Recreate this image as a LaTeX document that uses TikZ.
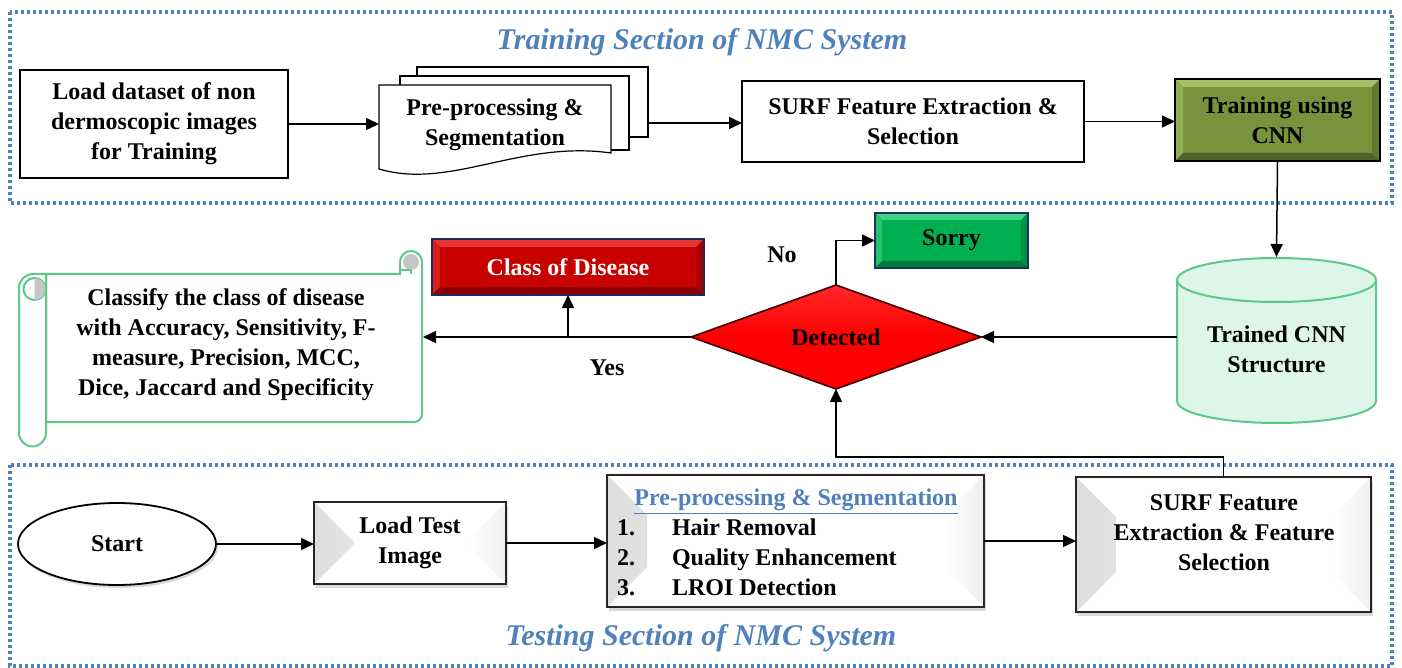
\documentclass[tikz,border=0pt]{standalone}
\usepackage{fontspec}
\setmainfont{Liberation Serif}
\usetikzlibrary{arrows.meta,shapes.geometric,shadows}
\definecolor{secblue}{HTML}{4F81BD}
\definecolor{olivef}{HTML}{77933C}
\definecolor{olivel}{HTML}{A5C167}
\definecolor{olived}{HTML}{4F6228}
\definecolor{redf}{HTML}{C80000}
\definecolor{redl}{HTML}{E53535}
\definecolor{redd}{HTML}{8A0000}
\definecolor{navyb}{HTML}{1F2A5C}
\definecolor{greenf}{HTML}{00B050}
\definecolor{greenl}{HTML}{45D088}
\definecolor{greend}{HTML}{007A3A}
\definecolor{tealb}{HTML}{17365D}
\definecolor{mint}{HTML}{5CC88A}
\definecolor{mintf}{HTML}{DDF6E9}
\begin{document}
\begin{tikzpicture}[x=0.5pt,y=-0.5pt,
  every node/.style={inner sep=0pt, outer sep=0pt},
  txt/.style={font=\fontsize{12}{15}\selectfont\bfseries, align=center},
  plainbox/.style={draw=black, line width=0.8pt, fill=white},
  conn/.style={line width=0.75pt, -{Triangle[length=6.5pt,width=6pt]}},
  link/.style={line width=0.75pt},
  secframe/.style={draw=secblue, line width=1.6pt, dash pattern=on 1.5pt off 1.5pt},
  sectitle/.style={text=secblue, font=\fontsize{15}{18}\selectfont\bfseries\itshape},
  docsheet/.style={draw=black, line width=0.6pt, fill=white},
  bevel/.style n args={4}{fill=#1, path picture={
    \fill[#2] (path picture bounding box.north west) -- (path picture bounding box.north east)
      -- ([xshift=-#4,yshift=-#4]path picture bounding box.north east)
      -- ([xshift=#4,yshift=-#4]path picture bounding box.north west) -- cycle;
    \fill[#2!55!#1] (path picture bounding box.north west)
      -- ([xshift=#4,yshift=-#4]path picture bounding box.north west)
      -- ([xshift=#4,yshift=#4]path picture bounding box.south west)
      -- (path picture bounding box.south west) -- cycle;
    \fill[#3] (path picture bounding box.south west)
      -- ([xshift=#4,yshift=#4]path picture bounding box.south west)
      -- ([xshift=-#4,yshift=#4]path picture bounding box.south east)
      -- (path picture bounding box.south east) -- cycle;
    \fill[#3!55!#1] (path picture bounding box.south east)
      -- ([xshift=-#4,yshift=#4]path picture bounding box.south east)
      -- ([xshift=-#4,yshift=-#4]path picture bounding box.north east)
      -- (path picture bounding box.north east) -- cycle;
  }},
  softbevel/.style={fill=white, draw=black!85, line width=0.9pt,
    drop shadow={shadow xshift=1pt, shadow yshift=-2pt, opacity=0.3},
    path picture={
    \shade[left color=black!13, right color=white] (path picture bounding box.north west)
      -- ([xshift=20pt,yshift=-20pt]path picture bounding box.north west)
      -- ([xshift=20pt,yshift=20pt]path picture bounding box.south west)
      -- (path picture bounding box.south west) -- cycle;
    \shade[left color=white, right color=black!6] (path picture bounding box.north east)
      -- ([xshift=-20pt,yshift=-20pt]path picture bounding box.north east)
      -- ([xshift=-20pt,yshift=20pt]path picture bounding box.south east)
      -- (path picture bounding box.south east) -- cycle;
  }}]
\useasboundingbox (0,0) rectangle (1402,668);

% section frames and titles
\draw[secframe] (10,12) rectangle (1392,203);
\draw[secframe] (10,465) rectangle (1392,666);
\node[sectitle] (trtitle) at (702,42) {Training Section of NMC System};
\node[sectitle] (tstitle) at (701,638) {Testing Section of NMC System};

% ---------------- training row ----------------
\node[plainbox, txt, minimum width=134pt, minimum height=54pt] (load) at (154,124)
  {Load dataset of non\\dermoscopic images\\for Training};

% stacked document sheets
\draw[docsheet] (417,67) rectangle (648,137);
\draw[docsheet] (400,76) rectangle (629,150);
\draw[docsheet] (379,85) -- (611,85) -- (611,153)
  .. controls (520,140) and (450,190) .. (379,169) -- cycle;
\node[txt, minimum width=116pt] (pre) at (495,125) {Pre-processing \&\\Segmentation};
\coordinate (stackR) at (648,123);

\node[plainbox, txt, minimum width=171pt, minimum height=40.5pt] (surf1) at (913,121.5)
  {SURF Feature Extraction \&\\Selection};
\node[draw=black, line width=1.2pt, bevel={olivef}{olivel}{olived}{4pt}, txt,
  minimum width=102.5pt, minimum height=41pt] (train) at (1277.5,120) {Training using\\CNN};

% ---------------- middle: decision ----------------
% trained model store (cylinder)
\path[draw=mint, fill=mintf, line width=1pt] (1177,280) -- (1177,401)
  arc[start angle=180, end angle=360, x radius=49.75pt, y radius=11pt] -- (1376,280)
  arc[start angle=0, end angle=180, x radius=49.75pt, y radius=11pt] -- cycle;
\draw[mint, line width=1pt] (1177,280)
  arc[start angle=180, end angle=360, x radius=49.75pt, y radius=11pt];
\node[txt, minimum width=99.5pt] (cyl) at (1276.5,349) {Trained CNN\\Structure};
\coordinate (cyltop) at (1276.5,257);

\node[diamond, aspect=2.8, draw=black!75!red, line width=0.8pt,
  top color=red!85!white, bottom color=red, middle color=red,
  minimum width=145pt, minimum height=52pt, txt] (det) at (836,337) {Detected};

\node[draw=tealb, line width=1pt, bevel={greenf}{greenl}{greend}{3.5pt}, txt,
  minimum width=76.5pt, minimum height=27.5pt] (sorry) at (951.5,240.5) {Sorry};
\node[draw=navyb, line width=0.9pt, bevel={redf}{redl}{redd}{4pt}, txt, text=white,
  minimum width=136pt, minimum height=28pt] (cls) at (568,267) {Class of Disease};

\node[txt] (nolab) at (782,255) {No};
\node[txt] (yeslab) at (607,368) {Yes};

% result scroll
\begin{scope}[draw=mint, line width=1pt]
  \filldraw[fill=white] (46,274) -- (400,274) -- (400,262)
    arc[start angle=180, end angle=0, radius=5.5pt] -- (422,414)
    arc[start angle=0, end angle=-90, radius=4pt] -- (46,422) -- cycle;
  \fill[gray!45] (411,262) circle[radius=4pt];
  \draw (400,270) -- (411,270) -- (411,274);
  \filldraw[fill=white] (19,288) arc[start angle=180, end angle=90, radius=7pt]
    -- (46,274) -- (46,433) arc[start angle=0, end angle=-180, radius=6.75pt] -- cycle;
  \filldraw[fill=white] (34.5,289) circle[radius=5.5pt];
  \fill[gray!45] (34.5,289) ++(0,-11) arc[start angle=90, end angle=-90, radius=5.5pt] -- cycle;
\end{scope}
\node[txt] (scroll) at (226,345)
  {Classify the class of disease\\with Accuracy, Sensitivity, F-\\measure, Precision, MCC,\\Dice, Jaccard and Specificity};
\coordinate (scrollR) at (423,337);

% ---------------- testing row ----------------
\node[ellipse, draw=black, line width=0.9pt, fill=white,
  drop shadow={shadow xshift=1pt, shadow yshift=-1.5pt, opacity=0.3},
  minimum width=99pt, minimum height=41pt, txt] (start) at (117,544) {Start};
\node[softbevel, txt, minimum width=96pt, minimum height=41pt] (loadt) at (410,543)
  {Load Test\\Image};
\node[softbevel, minimum width=188.5pt, minimum height=66pt] (pre2) at (795.5,541) {};
\node[txt, text=secblue] (pre2h) at (796,502) {\underline{Pre-processing \& Segmentation}};
\node[txt, anchor=base west] (n1) at (617,535) {1.};
\node[txt, anchor=base west] (n2) at (617,565) {2.};
\node[txt, anchor=base west] (n3) at (617,595) {3.};
\node[txt, anchor=base west] (i1) at (672,535) {Hair Removal};
\node[txt, anchor=base west] (i2) at (672,565) {Quality Enhancement};
\node[txt, anchor=base west] (i3) at (672,595) {LROI Detection};
\node[softbevel, minimum width=147.5pt, minimum height=67.5pt] (surf2) at (1223.5,544.5) {};
\node[txt] (surf2t) at (1224,533) {SURF Feature\\Extraction \& Feature\\Selection};

% ---------------- connectors ----------------
\draw[conn] (load.east) -- (load.east -| pre.west);
\draw[conn] (stackR) -- (stackR -| surf1.west);
\draw[conn] (surf1.east) -- (surf1.east -| train.west);
\draw[conn] (train.south) -- (cyltop);
\draw[conn] (det.east -| cyl.west) -- (det.east);
\draw[conn] (det.west) -- (scrollR);
\draw[conn] (cls.south |- det.west) -- (cls.south);
\draw[conn] (det.north) |- (sorry.west);
\draw[conn] (start.east) -- (start.east -| loadt.west);
\draw[conn] (loadt.east) -- (loadt.east -| pre2.west);
\draw[conn] (pre2.east) -- (pre2.east -| surf2.west);
\draw[conn] (surf2.north) -- ++(0,-20) -| (det.south);
\end{tikzpicture}
\end{document}
